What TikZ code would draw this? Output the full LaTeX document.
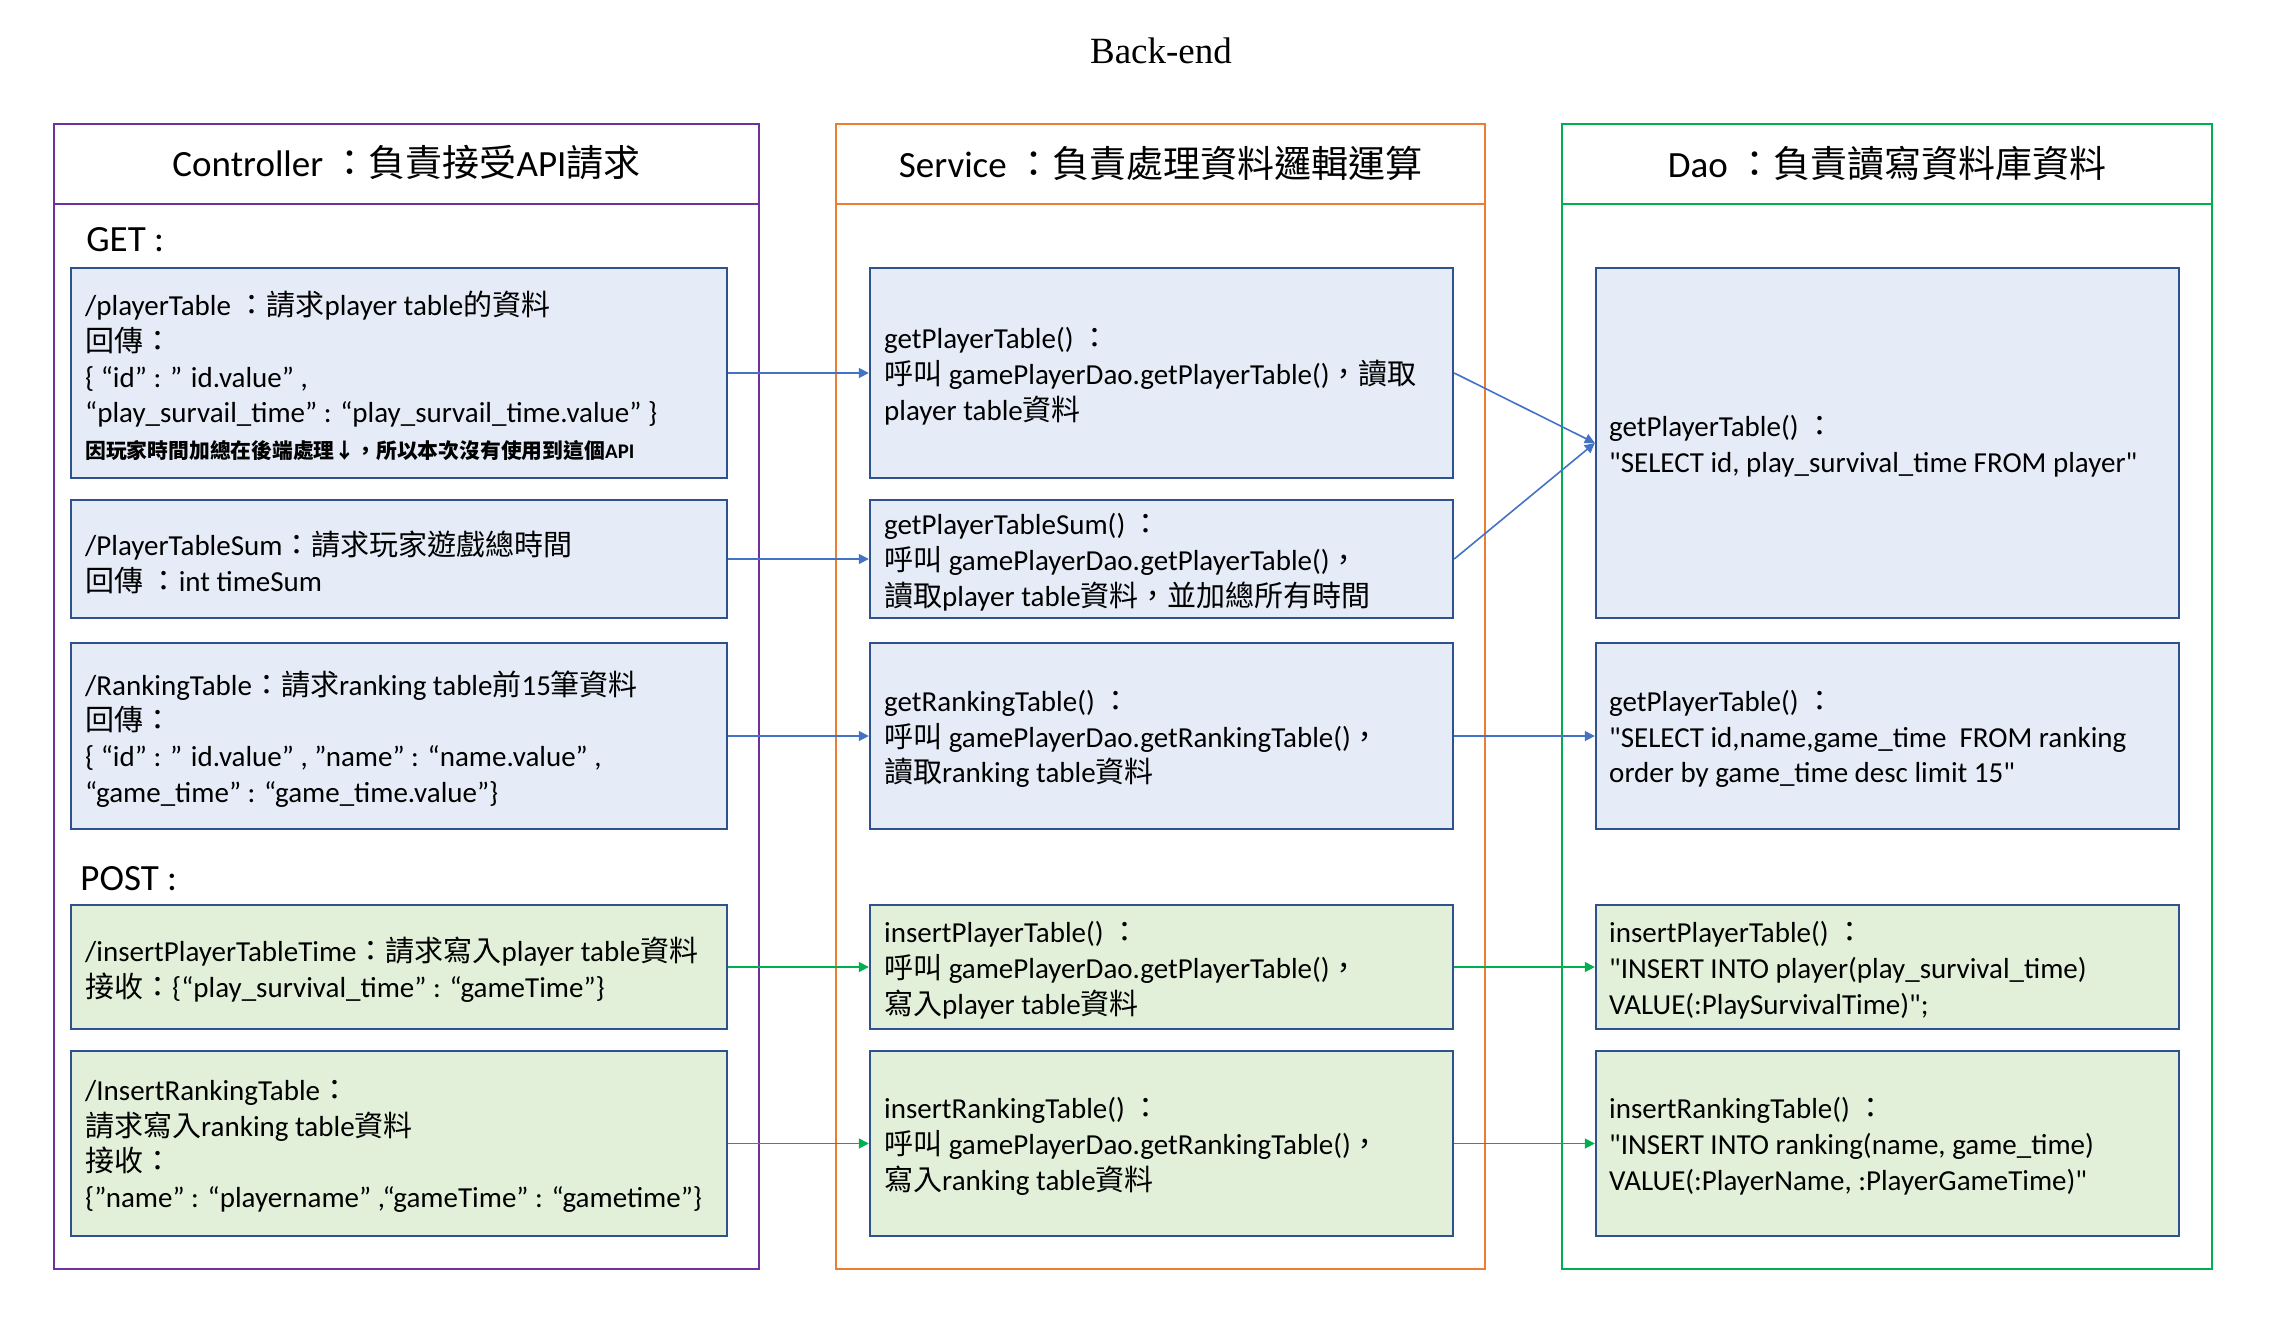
\documentclass[tikz,border=0pt]{standalone}
\usepackage{fontspec}
\setmainfont{Carlito}[Ligatures=TeXOff]
\newfontfamily\cjk{Noto Sans CJK TC}
\newfontfamily\titlefont{Liberation Serif}
\usetikzlibrary{arrows.meta}
% automatic switch to the CJK font for CJK characters
\XeTeXinterchartokenstate=1
\newXeTeXintercharclass\CJKcls
\newcount\cjkc
\def\setcjkrange#1#2{\cjkc=#1\relax
  \loop\XeTeXcharclass\cjkc=\CJKcls\relax
  \ifnum\cjkc<#2\relax\advance\cjkc by 1\relax\repeat}
\setcjkrange{"3000}{"303F}
\setcjkrange{"4E00}{"9FFF}
\setcjkrange{"FF00}{"FFEF}
\setcjkrange{"2190}{"21FF}
\XeTeXinterchartoks 0 \CJKcls = {\cjk}
\XeTeXinterchartoks 4095 \CJKcls = {\cjk}
\XeTeXinterchartoks \CJKcls 0 = {\rmfamily}
\XeTeXinterchartoks \CJKcls 4095 = {\rmfamily}
\definecolor{ctrlc}{HTML}{7030A0}
\definecolor{servc}{HTML}{ED7D31}
\definecolor{daoc}{HTML}{00B050}
\definecolor{bfill}{HTML}{E5ECF7}
\definecolor{gfill}{HTML}{E2F0D9}
\definecolor{bordc}{HTML}{2F528F}
\definecolor{barc}{HTML}{4472C4}
\definecolor{garc}{HTML}{00B050}
\tikzset{
  outer/.style={line width=1pt},
  hdr/.style={inner sep=0pt, font=\fontsize{18.5}{22}\selectfont},
  sect/.style={inner sep=0pt, anchor=west, font=\fontsize{18.5}{22}\selectfont},
  bluebox/.style={draw=bordc, fill=bfill, line width=1.2pt, inner sep=0pt},
  greenbox/.style={draw=bordc, fill=gfill, line width=1.2pt, inner sep=0pt},
  cw/.style={minimum width=328pt},
  sw/.style={minimum width=291.5pt},
  txt/.style={anchor=west, inner sep=0pt, yshift=-1.5pt, align=left, font=\fontsize{14.5}{17.9}\selectfont},
  barrow/.style={draw=barc, line width=0.8pt, -{Triangle[length=5pt,width=5pt]}},
  garrow/.style={draw=garc, line width=0.8pt, -{Triangle[length=5pt,width=5pt]}},
}
\begin{document}
\begin{tikzpicture}[x=0.5pt, y=-0.5pt]
\useasboundingbox (0,0) rectangle (2285,1324);
\fill[white] (0,0) rectangle (2285,1324);
\node[inner sep=0pt, font=\titlefont\fontsize{18.5}{22}\selectfont] (title) at (1161,51) {Back-end};
% columns
\draw[outer, draw=ctrlc] (54,124) rectangle (759,1269);
\draw[outer, draw=ctrlc] (54,204) -- (759,204);
\draw[outer, draw=servc] (836,124) rectangle (1485,1269);
\draw[outer, draw=servc] (836,204) -- (1485,204);
\draw[outer, draw=daoc] (1562,124) rectangle (2212,1269);
\draw[outer, draw=daoc] (1562,204) -- (2212,204);
\node[hdr] (ch) at (406.5,163) {Controller ：負責接受API請求};
\node[hdr] (sh) at (1160.5,163) {Service ：負責處理資料邏輯運算};
\node[hdr] (dh) at (1887,163) {Dao ：負責讀寫資料庫資料};
\node[sect] (get) at (86,240) {GET :};
\node[sect] (post) at (80,879) {POST :};
% controller boxes
\node[bluebox, cw, minimum height=105pt] (c1) at (399,373) {};
\node[bluebox, cw, minimum height=59pt] (c2) at (399,559) {};
\node[bluebox, cw, minimum height=93pt] (c3) at (399,736) {};
\node[greenbox, cw, minimum height=62pt] (c4) at (399,967) {};
\node[greenbox, cw, minimum height=92.5pt] (c5) at (399,1143.5) {};
% service boxes
\node[bluebox, sw, minimum height=105pt] (s1) at (1161.5,373) {};
\node[bluebox, sw, minimum height=59pt] (s2) at (1161.5,559) {};
\node[bluebox, sw, minimum height=93pt] (s3) at (1161.5,736) {};
\node[greenbox, sw, minimum height=62pt] (s4) at (1161.5,967) {};
\node[greenbox, sw, minimum height=92.5pt] (s5) at (1161.5,1143.5) {};
% dao boxes
\node[bluebox, sw, minimum height=175pt] (d1) at (1887.5,443) {};
\node[bluebox, sw, minimum height=93pt] (d2) at (1887.5,736) {};
\node[greenbox, sw, minimum height=62pt] (d3) at (1887.5,967) {};
\node[greenbox, sw, minimum height=92.5pt] (d4) at (1887.5,1143.5) {};
% texts
\node[txt] (c1t) at ([xshift=7.5pt]c1.west) {/playerTable ：請求player table的資料\\回傳：\\\{ “id” : ” id.value” ,\\“play\_survail\_time” : “play\_survail\_time.value” \}\\{\fontsize{10.4}{13}\selectfont\bfseries 因玩家時間加總在後端處理↓，所以本次沒有使用到這個API}};
\node[txt] (c2t) at ([xshift=7.5pt]c2.west) {/PlayerTableSum：請求玩家遊戲總時間\\回傳 ：int timeSum};
\node[txt] (c3t) at ([xshift=7.5pt]c3.west) {/RankingTable：請求ranking table前15筆資料\\回傳：\\\{ “id” : ” id.value” , ”name” : “name.value” ,\\“game\_time” : “game\_time.value”\}};
\node[txt] (c4t) at ([xshift=7.5pt]c4.west) {/insertPlayerTableTime：請求寫入player table資料\\接收：\{“play\_survival\_time” : “gameTime”\}};
\node[txt] (c5t) at ([xshift=7.5pt]c5.west) {/InsertRankingTable：\\請求寫入ranking table資料\\接收：\\\{”name” : “playername” ,“gameTime” : “gametime”\}};
\node[txt] (s1t) at ([xshift=7.5pt]s1.west) {getPlayerTable() ：\\呼叫 gamePlayerDao.getPlayerTable()，讀取\\player table資料};
\node[txt] (s2t) at ([xshift=7.5pt]s2.west) {getPlayerTableSum() ：\\呼叫 gamePlayerDao.getPlayerTable()，\\讀取player table資料，並加總所有時間};
\node[txt] (s3t) at ([xshift=7.5pt]s3.west) {getRankingTable() ：\\呼叫 gamePlayerDao.getRankingTable()，\\讀取ranking table資料};
\node[txt] (s4t) at ([xshift=7.5pt]s4.west) {insertPlayerTable() ：\\呼叫 gamePlayerDao.getPlayerTable()，\\寫入player table資料};
\node[txt] (s5t) at ([xshift=7.5pt]s5.west) {insertRankingTable() ：\\呼叫 gamePlayerDao.getRankingTable()，\\寫入ranking table資料};
\node[txt] (d1t) at ([xshift=7pt]d1.west) {getPlayerTable() ：\\"SELECT id, play\_survival\_time FROM player"};
\node[txt] (d2t) at ([xshift=7pt]d2.west) {getPlayerTable() ：\\"SELECT id,name,game\_time \ FROM ranking\\order by game\_time desc limit 15"};
\node[txt] (d3t) at ([xshift=7pt]d3.west) {insertPlayerTable() ：\\"INSERT INTO player(play\_survival\_time)\\VALUE(:PlaySurvivalTime)";};
\node[txt] (d4t) at ([xshift=7pt]d4.west) {insertRankingTable() ：\\"INSERT INTO ranking(name, game\_time)\\VALUE(:PlayerName, :PlayerGameTime)"};
% connectors
\draw[barrow] (c1.east) -- (s1.west);
\draw[barrow] (c2.east) -- (s2.west);
\draw[barrow] (c3.east) -- (s3.west);
\draw[garrow] (c4.east) -- (s4.west);
\draw[garrow] (c5.east) -- (s5.west);
\draw[barrow] (s1.east) -- (d1.west);
\draw[barrow] (s2.east) -- (d1.west);
\draw[barrow] (s3.east) -- (d2.west);
\draw[garrow] (s4.east) -- (d3.west);
\draw[garrow] (s5.east) -- (d4.west);
\end{tikzpicture}
\end{document}
